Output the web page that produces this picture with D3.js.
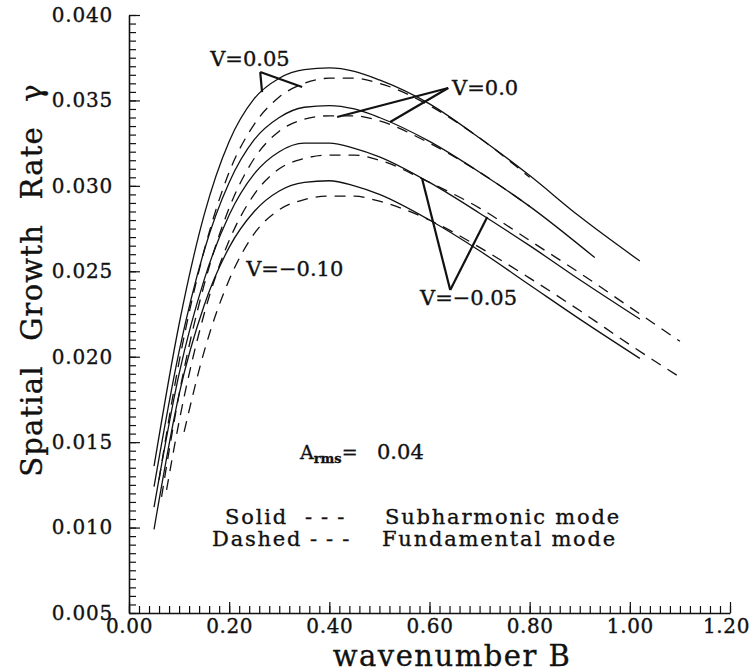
<!DOCTYPE html>
<html>
<head>
<meta charset="utf-8">
<script src="https://cdn.jsdelivr.net/npm/d3@7"></script>
<style>
body { margin: 0; background: #fff; }
svg { display: block; }
text { font-family: "DejaVu Serif", serif; fill: #111; stroke: #111; stroke-width: 0.35px; }
</style>
</head>
<body>
<svg id="chart" width="752" height="672"></svg>
<script>
// wavenumber B (x) and spatial growth rate gamma (y)
var vLabels = ["V=0.05", "V=0.0", "V=\u22120.05", "V=\u22120.10"];

// solid = subharmonic mode
var subB = [
    [0.05, 0.1, 0.15, 0.2, 0.25, 0.3, 0.35, 0.4, 0.45, 0.5, 0.6, 0.7, 0.8, 0.9, 1.02],
    [0.05, 0.1, 0.15, 0.2, 0.25, 0.3, 0.35, 0.4, 0.45, 0.5, 0.6, 0.7, 0.8, 0.93],
    [0.05, 0.1, 0.15, 0.2, 0.25, 0.3, 0.35, 0.4, 0.45, 0.5, 0.6, 0.7, 0.8, 0.9, 1.02],
    [0.05, 0.1, 0.15, 0.2, 0.25, 0.3, 0.35, 0.4, 0.45, 0.5, 0.6, 0.7, 0.8, 0.9, 1.02]
];
var subG = [
    [0.0136, 0.0219, 0.0283, 0.0326, 0.0351, 0.0363, 0.0368, 0.0369, 0.0367, 0.0362, 0.0348, 0.0328, 0.0306, 0.0282, 0.0256],
    [0.0124, 0.0203, 0.0262, 0.0302, 0.0327, 0.0340, 0.0346, 0.0347, 0.0345, 0.0340, 0.0326, 0.0308, 0.0288, 0.0258],
    [0.0112, 0.0190, 0.0245, 0.0283, 0.0307, 0.0320, 0.0325, 0.0325, 0.0322, 0.0317, 0.0302, 0.0284, 0.0265, 0.0245, 0.0222],
    [0.0099, 0.0178, 0.0230, 0.0264, 0.0285, 0.0297, 0.0302, 0.0303, 0.0300, 0.0295, 0.0280, 0.0262, 0.0242, 0.0222, 0.0199]
];

// dashed = fundamental mode
var funB = [
    [0.06, 0.1, 0.15, 0.2, 0.25, 0.3, 0.35, 0.4, 0.45, 0.5, 0.6, 0.7, 0.8],
    [0.065, 0.1, 0.15, 0.2, 0.25, 0.3, 0.35, 0.4, 0.45, 0.5, 0.6, 0.7, 0.8],
    [0.075, 0.1, 0.15, 0.2, 0.25, 0.3, 0.35, 0.4, 0.45, 0.5, 0.6, 0.7, 0.8, 0.9, 1.0, 1.1],
    [0.11, 0.15, 0.2, 0.25, 0.3, 0.35, 0.4, 0.45, 0.5, 0.6, 0.7, 0.8, 0.9, 1.0, 1.1]
];
var funG = [
    [0.0128, 0.0197, 0.0262, 0.0308, 0.0336, 0.0352, 0.0360, 0.0363, 0.0363, 0.0360, 0.0347, 0.0328, 0.0305],
    [0.0118, 0.0178, 0.0242, 0.0287, 0.0316, 0.0332, 0.0339, 0.0341, 0.0341, 0.0338, 0.0325, 0.0308, 0.0288],
    [0.0122, 0.0162, 0.0225, 0.0268, 0.0295, 0.0310, 0.0316, 0.0318, 0.0318, 0.0315, 0.0302, 0.0287, 0.0268, 0.0249, 0.0229, 0.0209],
    [0.0156, 0.0203, 0.0245, 0.0272, 0.0286, 0.0292, 0.0294, 0.0294, 0.0291, 0.0280, 0.0264, 0.0246, 0.0227, 0.0207, 0.0188]
];

var xTicks = [0, 0.2, 0.4, 0.6, 0.8, 1.0, 1.2];
var yTicks = [0.005, 0.010, 0.015, 0.020, 0.025, 0.030, 0.035, 0.040];

// label anchors (B, gamma) and the curve points the pointer lines touch
var labelAt = [[0.162, 0.0370], [0.645, 0.0353], [0.581, 0.0230], [0.234, 0.0247]];
var pointerTip = [[0.262, 0.03666], [0.6374, 0.03573], [0.6414, 0.0239], null];
var pointerEnds = [
    [[0.2657, 0.03549], [0.3457, 0.03579]],
    [[0.4156, 0.03403], [0.5215, 0.03374]],
    [[0.5854, 0.03040], [0.7153, 0.02818]],
    null
];

var svg = d3.select("#chart");
svg.append("rect").attr("width", 752).attr("height", 672).attr("fill", "#fff");

var xs = d3.scaleLinear().domain([0, 1.2]).range([129, 730]);
var ys = d3.scaleLinear().domain([0.005, 0.040]).range([613, 15]);

// minor ticks
var yMinor = d3.range(0, 71).map(function(i) { return 0.005 + i * 0.0005; });
var xMinor = d3.range(0, 61).map(function(i) { return i * 0.02; });

svg.append("g")
    .attr("transform", "translate(" + xs(0) + ",0)")
    .call(d3.axisLeft(ys).tickValues(yMinor).tickSize(-7).tickFormat(""))
    .call(function(g) { g.select(".domain").remove(); });

svg.append("g")
    .attr("transform", "translate(0," + ys(0.005) + ")")
    .call(d3.axisBottom(xs).tickValues(xMinor).tickSize(-7).tickFormat(""))
    .call(function(g) { g.select(".domain").remove(); });

var yAxis = svg.append("g")
    .attr("transform", "translate(" + xs(0) + ",0)")
    .call(d3.axisLeft(ys).tickValues(yTicks).tickSize(-11).tickSizeOuter(0)
        .tickPadding(16).tickFormat(d3.format(".3f")));

var xAxis = svg.append("g")
    .attr("transform", "translate(0," + ys(0.005) + ")")
    .call(d3.axisBottom(xs).tickValues(xTicks).tickSize(-11).tickSizeOuter(0)
        .tickPadding(6).tickFormat(d3.format(".2f")));

svg.selectAll(".tick line").attr("stroke", "#111").attr("stroke-width", 1.2);
svg.selectAll(".domain").attr("stroke", "#111").attr("stroke-width", 1.6);
yAxis.selectAll("text").attr("font-size", 20).style("letter-spacing", "0.8px")
    .attr("font-family", "DejaVu Serif");
xAxis.selectAll("text").attr("font-size", 20).style("letter-spacing", "0.6px")
    .attr("font-family", "DejaVu Serif");
// last label sits a little left of its tick so it stays on the page
xAxis.selectAll(".tick:last-of-type text").attr("dx", -4);

// axis titles
svg.append("text")
    .attr("transform", "translate(42,280) rotate(-90)")
    .attr("text-anchor", "middle")
    .attr("font-size", 29)
    .style("letter-spacing", "1.2px")
    .style("word-spacing", "14px")
    .text("Spatial Growth Rate \u03b3");

svg.append("text")
    .attr("x", 452).attr("y", 666)
    .attr("text-anchor", "middle")
    .attr("font-size", 29)
    .style("letter-spacing", "1.5px")
    .text("wavenumber B");

// curves
var line = d3.line()
    .x(function(d) { return xs(d[0]); })
    .y(function(d) { return ys(d[1]); })
    .curve(d3.curveMonotoneX);

var plot = svg.append("g");
subB.forEach(function(b, i) {
    plot.append("path")
        .datum(b.map(function(v, j) { return [v, subG[i][j]]; }))
        .attr("d", line)
        .attr("fill", "none").attr("stroke", "#111").attr("stroke-width", 1.3);
});
funB.forEach(function(b, i) {
    plot.append("path")
        .datum(b.map(function(v, j) { return [v, funG[i][j]]; }))
        .attr("d", line)
        .attr("fill", "none").attr("stroke", "#111").attr("stroke-width", 1.3)
        .attr("stroke-dasharray", "11,8");
});

// pointers and V labels
vLabels.forEach(function(lab, i) {
    if (pointerTip[i]) {
        pointerEnds[i].forEach(function(e) {
            plot.append("line")
                .attr("x1", xs(pointerTip[i][0])).attr("y1", ys(pointerTip[i][1]))
                .attr("x2", xs(e[0])).attr("y2", ys(e[1]))
                .attr("stroke", "#111").attr("stroke-width", 2.2);
        });
    }
    svg.append("text")
        .attr("x", xs(labelAt[i][0])).attr("y", ys(labelAt[i][1]))
        .attr("font-size", 21)
        .text(lab);
});

// amplitude note
var amp = svg.append("text").attr("x", 300).attr("y", 459).attr("font-size", 19);
amp.append("tspan").text("A");
amp.append("tspan").attr("font-size", 13).attr("font-weight", "bold").attr("dy", 4).text("rms");
amp.append("tspan").attr("dy", -4).text("=");
amp.append("tspan").attr("x", 377).attr("font-size", 21).text("0.04");

// legend text
var legend = [
    ["Solid", "---", "Subharmonic mode"],
    ["Dashed", "---", "Fundamental mode"]
];
var legX = [[225, 305, 385], [212, 310, 382]];
var legY = [524, 546];
legend.forEach(function(row, r) {
    row.forEach(function(t, k) {
        svg.append("text")
            .attr("x", legX[r][k]).attr("y", legY[r])
            .attr("font-size", 21)
            .style("letter-spacing", k == 1 ? "9px" : "1.8px")
            .text(t);
    });
});
</script>
</body>
</html>
